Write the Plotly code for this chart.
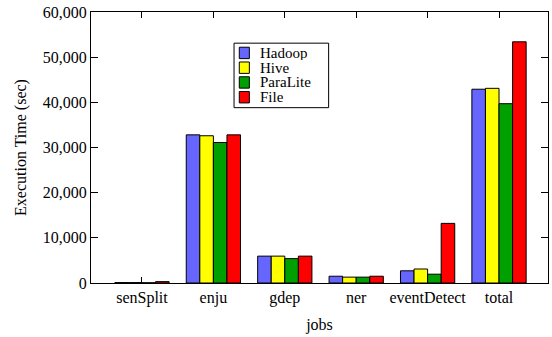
import plotly.graph_objects as go

jobs = ["senSplit", "enju", "gdep", "ner", "eventDetect", "total"]
series_names = ["Hadoop", "Hive", "ParaLite", "File"]
hadoop = [100, 32800, 5950, 1500, 2700, 42900]
hive = [100, 32600, 5950, 1300, 3100, 43100]
paralite = [50, 31100, 5400, 1300, 1950, 39700]
file_ = [300, 32800, 5950, 1500, 13200, 53400]
y_ticks = [0, 10000, 20000, 30000, 40000, 50000, 60000]
colors = ["#6666FF", "#FFFF00", "#00A000", "#FF0000"]

FONT = "Liberation Serif, Tinos, Times New Roman, DejaVu Serif, serif"
fig = go.Figure()
for name, vals, col in zip(series_names, [hadoop, hive, paralite, file_], colors):
    fig.add_trace(go.Bar(x=jobs, y=vals, name=name, marker=dict(color=col, line=dict(color="black", width=1)),
                         showlegend=False))

# custom legend (box + swatches + labels) in paper coords
lx0, lx1, ly0, ly1 = 0.313, 0.520, 0.647, 0.885
fig.add_shape(type="rect", xref="paper", yref="paper", x0=lx0, x1=lx1, y0=ly0, y1=ly1,
              line=dict(color="black", width=1), fillcolor="white", layer="above")
row_h = 0.0545
for i, (name, col) in enumerate(zip(series_names, colors)):
    yc = 0.849 - i * row_h
    fig.add_shape(type="rect", xref="paper", yref="paper", x0=lx0 + 0.0115, x1=lx0 + 0.0335,
                  y0=yc - 0.021, y1=yc + 0.021, line=dict(color="black", width=1), fillcolor=col, layer="above")
    fig.add_annotation(xref="paper", yref="paper", x=lx0 + 0.054, y=yc, text=name, showarrow=False,
                       xanchor="left", yanchor="middle", height=14, borderpad=0,
                       font=dict(family=FONT, size=15, color="black"))

fig.update_layout(
    width=552, height=337,
    margin=dict(l=91, r=4, t=12, b=54),
    paper_bgcolor="white", plot_bgcolor="white",
    barmode="group", bargap=0.24, bargroupgap=0,
    font=dict(family=FONT, size=16, color="black"),
)
fig.update_xaxes(range=[-0.714, 5.686], showline=True, linecolor="black", linewidth=1, mirror="ticks",
                 ticks="inside", ticklen=6, tickcolor="black", showgrid=False, layer="below traces",
                 automargin=False, ticklabeloverflow="allow",
                 title=dict(text="jobs", font=dict(family=FONT, size=16), standoff=12),
                 tickfont=dict(family=FONT, size=16))
fig.update_yaxes(range=[0, 60000], tickvals=y_ticks, tickformat=",d", showline=True, linecolor="black",
                 linewidth=1, mirror="ticks", ticks="inside", ticklen=7, tickcolor="black", showgrid=False,
                 zeroline=False, automargin=False, ticklabeloverflow="allow",
                 title=dict(text="Execution Time (sec)", font=dict(family=FONT, size=16), standoff=12),
                 tickfont=dict(family=FONT, size=16))

# remove the default 8px page margin so the figure fills the window exactly
fig.write_html("out.html", config={"displayModeBar": False},
               post_script="document.body.style.margin='0';")
